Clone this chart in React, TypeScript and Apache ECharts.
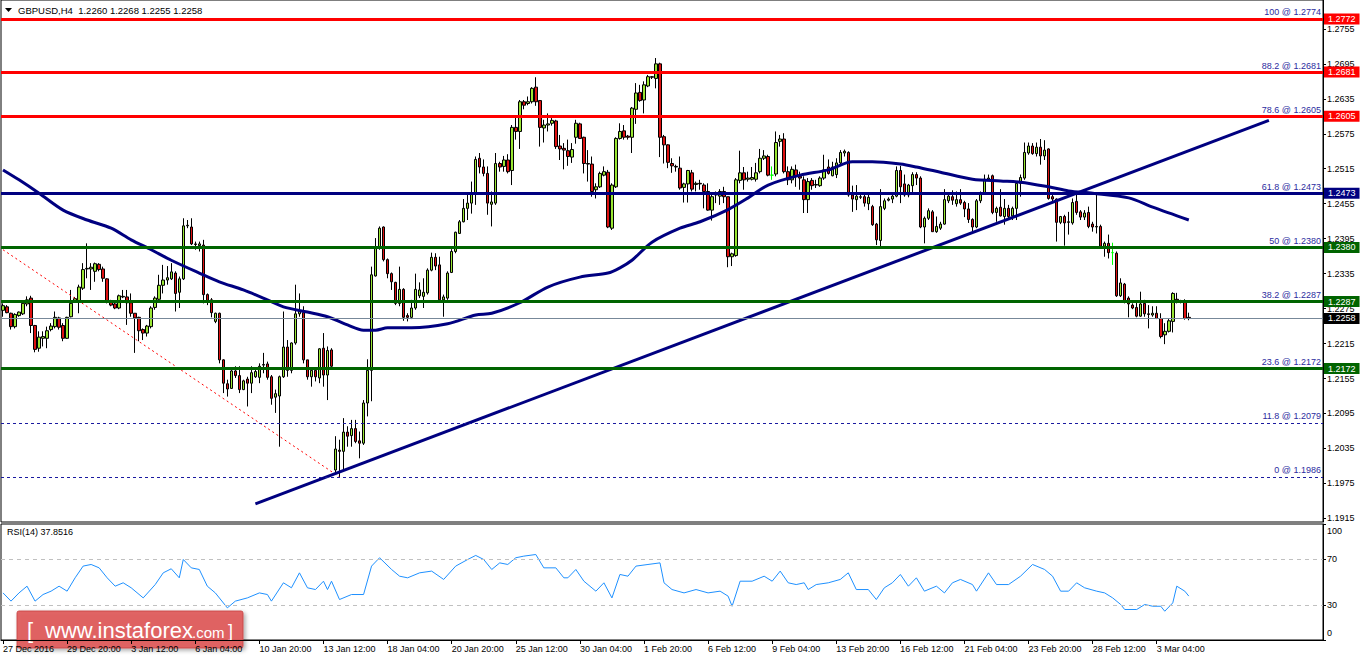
import React, { useEffect, useRef } from 'react';
import * as echarts from 'echarts';

// ---------- DATA ----------
// candles: [open, close, low, high]
const candles: number[][] = [
  [1.2272,1.2280,1.2261,1.2284],[1.2278,1.2268,1.2267,1.2281],[1.2267,1.2244,1.2239,1.2268],[1.2244,1.2265,1.2241,1.2267],
  [1.2263,1.2269,1.2261,1.2270],[1.2266,1.2284,1.2264,1.2287],[1.2283,1.2290,1.2279,1.2296],[1.2293,1.2246,1.2233,1.2297],
  [1.2246,1.2205,1.2200,1.2247],[1.2207,1.2226,1.2201,1.2236],[1.2224,1.2227,1.2210,1.2236],[1.2224,1.2237,1.2207,1.2244],
  [1.2239,1.2245,1.2236,1.2250],[1.2244,1.2260,1.2241,1.2270],[1.2259,1.2243,1.2239,1.2261],[1.2246,1.2224,1.2219,1.2250],
  [1.2224,1.2260,1.2223,1.2261],[1.2261,1.2284,1.2260,1.2307],[1.2289,1.2292,1.2285,1.2295],[1.2287,1.2312,1.2267,1.2316],
  [1.2310,1.2342,1.2307,1.2353],[1.2343,1.2344,1.2327,1.2387],[1.2343,1.2346,1.2307,1.2353],[1.2339,1.2352,1.2321,1.2354],
  [1.2351,1.2342,1.2339,1.2353],[1.2343,1.2327,1.2321,1.2347],[1.2326,1.2287,1.2284,1.2327],[1.2287,1.2281,1.2279,1.2290],
  [1.2283,1.2276,1.2274,1.2289],[1.2276,1.2297,1.2274,1.2299],[1.2295,1.2296,1.2293,1.2307],[1.2295,1.2285,1.2247,1.2307],
  [1.2285,1.2267,1.2261,1.2301],[1.2267,1.2259,1.2199,1.2267],[1.2260,1.2237,1.2219,1.2261],[1.2239,1.2233,1.2221,1.2241],
  [1.2233,1.2245,1.2227,1.2247],[1.2244,1.2276,1.2241,1.2279],[1.2277,1.2293,1.2273,1.2296],[1.2291,1.2315,1.2290,1.2333],
  [1.2315,1.2324,1.2301,1.2350],[1.2324,1.2328,1.2316,1.2348],[1.2326,1.2338,1.2324,1.2353],[1.2336,1.2301,1.2270,1.2339],
  [1.2303,1.2326,1.2276,1.2330],[1.2326,1.2417,1.2324,1.2430],[1.2417,1.2418,1.2413,1.2427],[1.2415,1.2386,1.2384,1.2430],
  [1.2386,1.2385,1.2376,1.2390],[1.2383,1.2386,1.2373,1.2390],[1.2384,1.2299,1.2284,1.2393],[1.2299,1.2289,1.2281,1.2301],
  [1.2290,1.2268,1.2260,1.2293],[1.2253,1.2267,1.2250,1.2268],[1.2267,1.2187,1.2181,1.2268],[1.2187,1.2147,1.2130,1.2188],
  [1.2146,1.2137,1.2124,1.2153],[1.2138,1.2168,1.2137,1.2170],[1.2168,1.2160,1.2156,1.2176],[1.2160,1.2136,1.2130,1.2176],
  [1.2136,1.2151,1.2135,1.2153],[1.2154,1.2147,1.2107,1.2158],[1.2147,1.2165,1.2130,1.2176],[1.2158,1.2167,1.2156,1.2170],
  [1.2157,1.2176,1.2147,1.2181],[1.2178,1.2179,1.2164,1.2199],[1.2180,1.2157,1.2153,1.2184],[1.2158,1.2121,1.2110,1.2161],
  [1.2123,1.2129,1.2096,1.2136],[1.2125,1.2158,1.2038,1.2160],[1.2158,1.2209,1.2156,1.2270],[1.2209,1.2169,1.2158,1.2221],
  [1.2169,1.2216,1.2164,1.2217],[1.2216,1.2266,1.2213,1.2316],[1.2266,1.2270,1.2261,1.2301],[1.2268,1.2187,1.2181,1.2279],
  [1.2187,1.2158,1.2153,1.2187],[1.2158,1.2169,1.2141,1.2173],[1.2169,1.2158,1.2150,1.2173],[1.2156,1.2206,1.2147,1.2207],
  [1.2207,1.2161,1.2141,1.2233],[1.2161,1.2203,1.2118,1.2210],[1.2204,1.2176,1.2173,1.2207],[1.1998,1.2034,1.1990,1.2056],
  [1.2032,1.2030,1.1986,1.2050],[1.2030,1.2063,1.1998,1.2087],[1.2063,1.2056,1.2038,1.2073],[1.2057,1.2069,1.2038,1.2084],
  [1.2069,1.2047,1.2044,1.2084],[1.2048,1.2044,1.2018,1.2064],[1.2044,1.2113,1.2041,1.2118],[1.2113,1.2169,1.2090,1.2188],
  [1.2169,1.2333,1.2116,1.2347],[1.2331,1.2379,1.2330,1.2396],[1.2379,1.2413,1.2376,1.2416],[1.2415,1.2359,1.2356,1.2416],
  [1.2359,1.2335,1.2327,1.2361],[1.2335,1.2321,1.2307,1.2337],[1.2320,1.2284,1.2281,1.2321],[1.2284,1.2308,1.2279,1.2347],
  [1.2308,1.2260,1.2254,1.2310],[1.2263,1.2260,1.2253,1.2267],[1.2260,1.2276,1.2257,1.2290],[1.2276,1.2308,1.2273,1.2335],
  [1.2297,1.2307,1.2293,1.2320],[1.2296,1.2303,1.2276,1.2327],[1.2302,1.2341,1.2299,1.2344],[1.2341,1.2363,1.2339,1.2371],
  [1.2363,1.2348,1.2341,1.2370],[1.2350,1.2290,1.2290,1.2364],[1.2290,1.2295,1.2261,1.2299],[1.2293,1.2336,1.2290,1.2339],
  [1.2337,1.2373,1.2336,1.2377],[1.2373,1.2406,1.2370,1.2407],[1.2404,1.2424,1.2403,1.2427],[1.2424,1.2447,1.2423,1.2463],
  [1.2447,1.2456,1.2427,1.2473],[1.2456,1.2473,1.2438,1.2493],[1.2473,1.2531,1.2453,1.2536],[1.2533,1.2518,1.2507,1.2542],
  [1.2518,1.2507,1.2502,1.2531],[1.2507,1.2456,1.2436,1.2519],[1.2454,1.2458,1.2416,1.2476],[1.2456,1.2524,1.2453,1.2542],
  [1.2524,1.2518,1.2510,1.2527],[1.2519,1.2530,1.2510,1.2537],[1.2530,1.2510,1.2507,1.2540],[1.2512,1.2586,1.2487,1.2590],
  [1.2586,1.2579,1.2565,1.2605],[1.2579,1.2630,1.2549,1.2633],[1.2630,1.2624,1.2617,1.2633],[1.2627,1.2630,1.2624,1.2639],
  [1.2630,1.2653,1.2627,1.2655],[1.2655,1.2630,1.2623,1.2672],[1.2632,1.2586,1.2553,1.2633],[1.2585,1.2590,1.2560,1.2599],
  [1.2590,1.2592,1.2579,1.2610],[1.2593,1.2598,1.2589,1.2602],[1.2597,1.2553,1.2549,1.2599],[1.2554,1.2549,1.2530,1.2573],
  [1.2550,1.2547,1.2514,1.2559],[1.2546,1.2536,1.2520,1.2565],[1.2535,1.2548,1.2525,1.2559],[1.2569,1.2593,1.2558,1.2599],
  [1.2592,1.2567,1.2566,1.2594],[1.2569,1.2524,1.2507,1.2570],[1.2524,1.2523,1.2493,1.2547],[1.2523,1.2476,1.2467,1.2536],
  [1.2479,1.2484,1.2464,1.2490],[1.2484,1.2507,1.2482,1.2510],[1.2504,1.2510,1.2502,1.2519],[1.2509,1.2415,1.2413,1.2513],
  [1.2413,1.2487,1.2410,1.2490],[1.2484,1.2567,1.2482,1.2569],[1.2567,1.2579,1.2565,1.2593],[1.2580,1.2569,1.2565,1.2590],
  [1.2571,1.2569,1.2565,1.2573],[1.2569,1.2619,1.2542,1.2621],[1.2617,1.2645,1.2592,1.2662],[1.2646,1.2632,1.2630,1.2659],
  [1.2633,1.2659,1.2610,1.2665],[1.2657,1.2673,1.2655,1.2676],[1.2673,1.2672,1.2669,1.2674],[1.2670,1.2695,1.2653,1.2705],
  [1.2695,1.2569,1.2535,1.2697],[1.2570,1.2556,1.2524,1.2573],[1.2556,1.2526,1.2516,1.2557],[1.2524,1.2520,1.2508,1.2533],
  [1.2519,1.2518,1.2510,1.2522],[1.2516,1.2482,1.2479,1.2536],[1.2483,1.2489,1.2457,1.2491],[1.2489,1.2512,1.2457,1.2513],
  [1.2508,1.2480,1.2476,1.2513],[1.2488,1.2490,1.2476,1.2493],[1.2490,1.2489,1.2479,1.2496],[1.2487,1.2476,1.2447,1.2490],
  [1.2476,1.2444,1.2443,1.2490],[1.2444,1.2467,1.2426,1.2473],[1.2470,1.2472,1.2456,1.2476],[1.2468,1.2476,1.2453,1.2480],
  [1.2476,1.2467,1.2456,1.2484],[1.2467,1.2364,1.2346,1.2467],[1.2364,1.2369,1.2348,1.2371],[1.2366,1.2496,1.2364,1.2499],
  [1.2495,1.2508,1.2490,1.2546],[1.2508,1.2496,1.2479,1.2518],[1.2497,1.2499,1.2493,1.2510],[1.2497,1.2500,1.2495,1.2518],
  [1.2497,1.2508,1.2493,1.2525],[1.2510,1.2533,1.2507,1.2549],[1.2533,1.2537,1.2530,1.2547],[1.2536,1.2504,1.2502,1.2539],
  [1.2504,1.2504,1.2496,1.2519],[1.2506,1.2560,1.2502,1.2579],[1.2562,1.2566,1.2553,1.2573],[1.2566,1.2510,1.2507,1.2576],
  [1.2510,1.2496,1.2487,1.2519],[1.2496,1.2514,1.2490,1.2519],[1.2513,1.2502,1.2484,1.2522],[1.2502,1.2499,1.2479,1.2510],
  [1.2496,1.2462,1.2439,1.2502],[1.2462,1.2493,1.2439,1.2499],[1.2495,1.2486,1.2479,1.2499],[1.2487,1.2488,1.2482,1.2496],
  [1.2486,1.2499,1.2484,1.2502],[1.2499,1.2513,1.2496,1.2539],[1.2518,1.2507,1.2505,1.2531],[1.2503,1.2518,1.2502,1.2527],
  [1.2505,1.2525,1.2499,1.2533],[1.2525,1.2543,1.2522,1.2547],[1.2542,1.2545,1.2536,1.2548],[1.2543,1.2470,1.2467,1.2545],
  [1.2470,1.2463,1.2441,1.2486],[1.2462,1.2468,1.2444,1.2487],[1.2466,1.2467,1.2463,1.2470],[1.2467,1.2456,1.2450,1.2470],
  [1.2455,1.2466,1.2444,1.2470],[1.2450,1.2419,1.2417,1.2453],[1.2420,1.2393,1.2384,1.2422],[1.2392,1.2450,1.2381,1.2480],
  [1.2447,1.2460,1.2444,1.2464],[1.2461,1.2463,1.2459,1.2466],[1.2463,1.2468,1.2456,1.2473],[1.2468,1.2512,1.2466,1.2519],
  [1.2512,1.2484,1.2456,1.2520],[1.2489,1.2470,1.2467,1.2505],[1.2470,1.2487,1.2466,1.2489],[1.2486,1.2505,1.2473,1.2509],
  [1.2505,1.2499,1.2487,1.2509],[1.2499,1.2415,1.2413,1.2502],[1.2415,1.2430,1.2387,1.2433],[1.2430,1.2443,1.2427,1.2447],
  [1.2441,1.2407,1.2407,1.2444],[1.2407,1.2416,1.2405,1.2433],[1.2413,1.2420,1.2410,1.2424],[1.2420,1.2462,1.2419,1.2480],
  [1.2460,1.2468,1.2456,1.2473],[1.2467,1.2461,1.2453,1.2478],[1.2455,1.2462,1.2450,1.2476],[1.2462,1.2456,1.2453,1.2480],
  [1.2457,1.2446,1.2432,1.2460],[1.2446,1.2428,1.2422,1.2456],[1.2428,1.2415,1.2407,1.2430],[1.2415,1.2460,1.2413,1.2463],
  [1.2460,1.2473,1.2456,1.2476],[1.2473,1.2497,1.2470,1.2505],[1.2497,1.2499,1.2495,1.2505],[1.2503,1.2440,1.2437,1.2505],
  [1.2440,1.2447,1.2424,1.2450],[1.2449,1.2434,1.2433,1.2480],[1.2433,1.2447,1.2419,1.2463],[1.2447,1.2433,1.2430,1.2453],
  [1.2434,1.2447,1.2427,1.2450],[1.2447,1.2490,1.2427,1.2493],[1.2490,1.2500,1.2467,1.2505],[1.2499,1.2543,1.2496,1.2560],
  [1.2542,1.2554,1.2539,1.2560],[1.2554,1.2541,1.2539,1.2559],[1.2541,1.2552,1.2536,1.2560],[1.2552,1.2537,1.2522,1.2566],
  [1.2537,1.2547,1.2530,1.2564],[1.2549,1.2464,1.2462,1.2550],[1.2467,1.2463,1.2459,1.2470],[1.2463,1.2423,1.2390,1.2464],
  [1.2423,1.2433,1.2420,1.2434],[1.2433,1.2422,1.2383,1.2436],[1.2423,1.2424,1.2402,1.2441],[1.2422,1.2457,1.2419,1.2464],
  [1.2459,1.2440,1.2436,1.2470],[1.2441,1.2432,1.2427,1.2444],[1.2432,1.2439,1.2427,1.2444],[1.2440,1.2416,1.2413,1.2450],
  [1.2420,1.2415,1.2407,1.2424],[1.2415,1.2416,1.2404,1.2473],[1.2416,1.2382,1.2379,1.2419],[1.2382,1.2387,1.2364,1.2390],
  [1.2387,1.2371,1.2361,1.2402],[1.2371,1.2371,1.2350,1.2388],[1.2370,1.2297,1.2295,1.2373],[1.2297,1.2319,1.2295,1.2327],
  [1.2317,1.2287,1.2284,1.2319],[1.2293,1.2283,1.2260,1.2296],[1.2281,1.2276,1.2274,1.2284],[1.2277,1.2262,1.2260,1.2287],
  [1.2262,1.2283,1.2261,1.2304],[1.2284,1.2266,1.2261,1.2290],[1.2266,1.2265,1.2241,1.2281],[1.2264,1.2267,1.2261,1.2279],
  [1.2267,1.2258,1.2257,1.2279],[1.2258,1.2227,1.2224,1.2267],[1.2230,1.2236,1.2214,1.2250],[1.2236,1.2254,1.2234,1.2257],
  [1.2253,1.2301,1.2234,1.2303],[1.2291,1.2289,1.2284,1.2302],[1.2287,1.2288,1.2284,1.2290],[1.2286,1.2258,1.2256,1.2291],
  [1.2260,1.2258,1.2255,1.2268],
];
const limeDojiBars = [192, 277];

const maBars = [0,4,9,15,21,27,32,37,42,49,54,60,66,70,76,81,86,90,93,96,102,111,118,122,129,136,144,151,154,157,162,169,174,181,186,191,199,206,212,217,224,228,234,242,249,254,261,266,272,281,287,296];
const maValues = [1.2513,1.2496,1.2473,1.2444,1.2427,1.2413,1.2393,1.2376,1.2358,1.2336,1.2321,1.2307,1.2290,1.2278,1.2269,1.2261,1.2247,1.2238,1.2238,1.2242,1.2242,1.2249,1.2264,1.2267,1.2285,1.2312,1.2329,1.2336,1.2345,1.2358,1.2389,1.2413,1.2424,1.2445,1.2465,1.2487,1.2504,1.2513,1.2527,1.2527,1.2523,1.2518,1.2509,1.2497,1.2494,1.2492,1.2484,1.2477,1.2473,1.2465,1.2449,1.2427];

const trendBars = [63, 316];
const trendValues = [1.1940, 1.2598];
const fibDiagBars = [0, 84];
const fibDiagValues = [1.2376, 1.1986];

const rsiBars = [0,2,4,6,8,10,12,14,16,18,20,22,24,26,28,30,32,35,38,40,42,44,45,47,49,51,53,56,58,61,64,66,67,70,72,74,76,78,80,81,82,84,87,90,92,94,97,99,101,104,107,110,113,116,118,120,122,124,126,128,130,133,135,138,140,141,143,145,148,150,152,154,156,158,161,164,165,167,170,173,176,179,181,182,184,187,190,192,194,196,198,200,201,203,206,209,211,213,216,218,220,222,224,226,228,230,233,235,237,239,242,243,246,248,251,254,257,260,262,264,266,268,270,273,275,277,279,280,283,285,287,289,290,292,293,295,296];
const rsiValues = [40.6,33.5,40.6,46.4,33.5,39.2,42.1,46.4,42.1,53.6,63.7,65.1,62.2,53.6,46.4,49.3,45.0,36.3,47.8,57.9,61.4,53.6,69.4,62.2,60.8,46.4,40.6,27.7,33.5,36.3,40.6,39.2,33.5,49.3,45.0,57.9,45.0,43.5,50.7,43.5,50.7,34.9,39.2,39.2,63.7,70.9,60.8,55.0,53.6,57.9,59.4,52.2,63.7,69.4,72.9,69.4,60.8,66.5,65.1,70.9,72.3,73.7,62.2,62.2,53.6,53.6,60.8,50.7,42.1,49.3,36.3,56.5,55.0,63.7,65.1,66.5,49.3,43.5,40.6,43.5,40.6,42.1,37.8,29.1,50.7,50.7,55.0,50.7,59.4,49.3,47.8,49.3,43.5,47.8,49.3,52.2,57.9,43.5,43.5,34.9,45.0,49.3,56.5,46.4,53.6,42.1,46.4,40.6,49.3,52.2,47.8,42.1,57.9,47.8,47.8,55.0,65.1,60.8,55.0,42.1,42.1,49.3,45.0,42.1,40.6,36.3,30.6,26.3,26.3,30.6,29.1,29.1,24.8,32.0,46.4,42.1,37.85];

const fibRatios = ['100', '88.2', '78.6', '61.8', '50', '38.2', '23.6', '11.8', '0'];
const fibLinePrices = [1.2772, 1.2681, 1.2605, 1.2473, 1.2380, 1.2287, 1.2172, 1.2079, 1.1986];
const fibTextPrices = ['1.2774', '1.2681', '1.2605', '1.2473', '1.2380', '1.2287', '1.2172', '1.2079', '1.1986'];
const lastPrice = 1.2258;
const priceTicks = [1.1915, 1.1975, 1.2035, 1.2095, 1.2155, 1.2215, 1.2275, 1.2335, 1.2395, 1.2455, 1.2515, 1.2575, 1.2635, 1.2695, 1.2755];
const rsiTicks = [30, 70];
const rsiLevels = [70, 30];
const timeLabels = ['27 Dec 2016', '29 Dec 20:00', '3 Jan 12:00', '6 Jan 04:00', '10 Jan 20:00', '13 Jan 12:00', '18 Jan 04:00', '20 Jan 20:00', '25 Jan 12:00', '30 Jan 04:00', '1 Feb 20:00', '6 Feb 12:00', '9 Feb 04:00', '13 Feb 20:00', '16 Feb 12:00', '21 Feb 04:00', '23 Feb 20:00', '28 Feb 12:00', '3 Mar 04:00'];
const headerText = 'GBPUSD,H4  1.2260 1.2268 1.2255 1.2258';
const rsiText = 'RSI(14) 37.8516';

// ---------- STYLE / LAYOUT ----------
const FONT = 'Liberation Sans';
const SLOTS = 330;
const LABEL_STEP = 16;
const RED = '#ff0000';
const NAVY = '#000080';
const GREEN = '#006400';
const FIB_TEXT = '#2c2ca0';
const FIB_STYLE = [
  { color: RED, width: 3, type: 'solid', tag: true },
  { color: RED, width: 3, type: 'solid', tag: true },
  { color: RED, width: 3, type: 'solid', tag: true },
  { color: NAVY, width: 3, type: 'solid', tag: true },
  { color: GREEN, width: 3, type: 'solid', tag: true },
  { color: GREEN, width: 3, type: 'solid', tag: true },
  { color: GREEN, width: 3, type: 'solid', tag: true },
  { color: '#1a1aa0', width: 1, type: [3, 3], tag: false },
  { color: '#1a1aa0', width: 1, type: [3, 3], tag: false },
];

function zip(a: number[], b: number[]) {
  return a.map((v, i) => [v, b[i]]);
}

const tagLabel = (text: string, bg: string) => ({
  show: true,
  position: 'end',
  formatter: text,
  color: '#ffffff',
  backgroundColor: bg,
  padding: [1, 4, 0, 4],
  lineHeight: 10,
  fontSize: 9,
  fontFamily: FONT,
  distance: 1,
});

export default function App() {
  const ref = useRef<HTMLDivElement>(null);

  useEffect(() => {
    if (!ref.current) return;
    const chart = echarts.init(ref.current, null, { renderer: 'svg' });
    const cats = Array.from({ length: SLOTS }, (_, i) => String(i));
    const labelAt = (i: number) => i % LABEL_STEP === 0 && i / LABEL_STEP < timeLabels.length;

    const candleData = candles.map((c, i) =>
      limeDojiBars.includes(i)
        ? { value: c, itemStyle: { borderColor: '#00ff00', borderColor0: '#00ff00' } }
        : c
    );

    const fibMarks: any[] = fibLinePrices.map((p, i) => {
      const st = FIB_STYLE[i];
      return {
        yAxis: p,
        lineStyle: { color: st.color, width: st.width, type: st.type },
        label: {
          show: true,
          position: 'insideEndTop',
          formatter: `${fibRatios[i]} @ ${fibTextPrices[i]}`,
          color: FIB_TEXT,
          fontSize: 9,
          fontFamily: FONT,
          distance: 2,
        },
      };
    });
    fibMarks.push({
      yAxis: lastPrice,
      lineStyle: { color: '#778899', width: 1, type: 'solid' },
      label: tagLabel(lastPrice.toFixed(4), '#000000'),
    });
    const tagMarks: any[] = [];
    fibLinePrices.forEach((p, i) => {
      const st = FIB_STYLE[i];
      if (!st.tag) return;
      tagMarks.push({
        yAxis: p,
        lineStyle: { color: 'rgba(0,0,0,0)', width: 1, type: 'solid' },
        label: tagLabel(p.toFixed(4), st.color),
      });
    });

    const option: any = {
      animation: false,
      backgroundColor: '#ffffff',
      textStyle: { fontFamily: FONT },
      grid: [
        { left: 1, top: 0, width: 1322, height: 522, show: true, borderColor: '#000', borderWidth: 1 },
        { left: 1, top: 524, width: 1322, height: 116, show: true, borderColor: '#000', borderWidth: 1 },
      ],
      xAxis: [
        { type: 'category', gridIndex: 0, data: cats, boundaryGap: true, show: false },
        {
          type: 'category',
          gridIndex: 1,
          data: cats,
          boundaryGap: true,
          axisLine: { show: true, lineStyle: { color: '#000', width: 1 } },
          axisTick: { show: true, alignWithLabel: true, interval: (i: number) => labelAt(i), length: 4, lineStyle: { color: '#000' } },
          axisLabel: {
            interval: (i: number) => labelAt(i),
            formatter: (_v: string, i: number) => timeLabels[i / LABEL_STEP] ?? '',
            align: 'left',
            color: '#000',
            fontSize: 9,
            fontFamily: FONT,
            margin: 4,
          },
          splitLine: { show: false },
        },
      ],
      yAxis: [
        {
          type: 'value',
          gridIndex: 0,
          position: 'right',
          min: 1.190875,
          max: 1.28046,
          splitLine: { show: false },
          axisLine: { show: true, lineStyle: { color: '#000' } },
          axisTick: { show: true, length: 3, customValues: priceTicks, lineStyle: { color: '#000' } },
          axisLabel: {
            customValues: priceTicks,
            formatter: (v: number) => v.toFixed(4),
            color: '#000',
            fontSize: 9,
            fontFamily: FONT,
            margin: 4,
          },
        },
        {
          type: 'value',
          gridIndex: 1,
          position: 'right',
          min: 0,
          max: 100,
          splitLine: { show: false },
          axisLine: { show: true, lineStyle: { color: '#000' } },
          axisTick: { show: true, length: 3, customValues: [0, 30, 70, 100], lineStyle: { color: '#000' } },
          axisLabel: { customValues: rsiTicks, color: '#000', fontSize: 9, fontFamily: FONT, margin: 4 },
        },
      ],
      series: [
        {
          type: 'candlestick',
          xAxisIndex: 0,
          yAxisIndex: 0,
          data: candleData,
          barWidth: 3,
          z: 2,
          itemStyle: { color: '#99e633', color0: '#dd1111', borderColor: '#000', borderColor0: '#000', borderWidth: 1 },
        },
        {
          type: 'line',
          xAxisIndex: 0,
          yAxisIndex: 0,
          data: zip(maBars, maValues),
          smooth: 0.3,
          symbol: 'none',
          z: 4,
          lineStyle: { color: NAVY, width: 3 },
          markLine: { silent: true, symbol: ['none', 'none'], precision: 6, animation: false, data: fibMarks },
        },
        {
          type: 'line',
          xAxisIndex: 0,
          yAxisIndex: 0,
          data: zip(trendBars, trendValues),
          symbol: 'none',
          z: 4,
          lineStyle: { color: NAVY, width: 3 },
          markLine: { silent: true, symbol: ['none', 'none'], precision: 6, animation: false, data: tagMarks },
        },
        {
          type: 'line',
          xAxisIndex: 0,
          yAxisIndex: 0,
          data: zip(fibDiagBars, fibDiagValues),
          symbol: 'none',
          z: 3,
          lineStyle: { color: RED, width: 1, type: [2, 3] },
        },
        {
          type: 'line',
          xAxisIndex: 1,
          yAxisIndex: 1,
          data: zip(rsiBars, rsiValues),
          symbol: 'none',
          z: 3,
          lineStyle: { color: '#1e90ff', width: 1 },
          markLine: {
            silent: true,
            symbol: ['none', 'none'],
            precision: 2,
            label: { show: false },
            lineStyle: { color: '#c0c0c0', width: 1, type: [4, 4] },
            data: rsiLevels.map((v) => ({ yAxis: v })),
          },
        },
      ],
      graphic: [
        { type: 'polygon', shape: { points: [[5, 8], [12, 8], [8.5, 12]] }, style: { fill: '#000' } },
        { type: 'text', x: 18, y: 10, style: { text: headerText, fill: '#000', font: `9.5px "${FONT}"`, verticalAlign: 'middle' } },
        { type: 'text', x: 7, y: 532, style: { text: rsiText, fill: '#000', font: `9px "${FONT}"`, verticalAlign: 'middle' } },
        { type: 'text', x: 1327, y: 531, style: { text: '100', fill: '#000', font: `9px "${FONT}"`, verticalAlign: 'middle' } },
        { type: 'text', x: 1327, y: 633, style: { text: '0', fill: '#000', font: `9px "${FONT}"`, verticalAlign: 'middle' } },
        {
          type: 'group',
          z: 100,
          children: [
            {
              type: 'rect',
              shape: { x: 17, y: 611, width: 226, height: 37, r: 2 },
              style: { fill: 'rgba(224,90,90,0.92)', stroke: 'rgba(200,70,70,0.9)', lineWidth: 1, shadowBlur: 4, shadowOffsetX: 2, shadowOffsetY: 2, shadowColor: 'rgba(0,0,0,0.35)' },
            },
            { type: 'text', x: 27, y: 630, style: { text: '[', fill: '#fff', font: `22px "${FONT}"`, verticalAlign: 'middle' } },
            { type: 'text', x: 45, y: 630, style: { text: 'www.instaforex', fill: '#fff', font: `22px "${FONT}"`, verticalAlign: 'middle' } },
            { type: 'text', x: 192, y: 632, style: { text: '.com', fill: '#fff', font: `15px "${FONT}"`, verticalAlign: 'middle' } },
            { type: 'text', x: 228, y: 631, style: { text: ']', fill: '#fff', font: `18px "${FONT}"`, verticalAlign: 'middle' } },
          ],
        },
      ],
    };

    chart.setOption(option);
    return () => chart.dispose();
  }, []);

  return (
    <div
      ref={ref}
      style={{ position: 'fixed', left: 0, top: 0, width: 1362, height: 661, background: '#fff' }}
    />
  );
}
